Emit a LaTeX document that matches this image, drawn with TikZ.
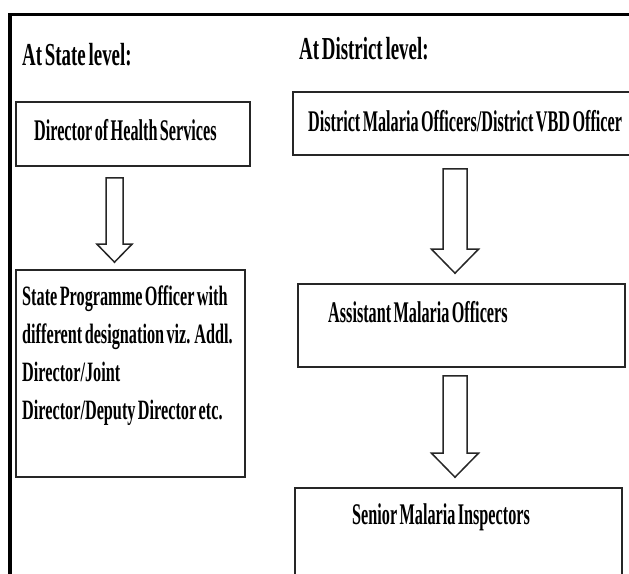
\documentclass[tikz,border=0pt]{standalone}
\usepackage{fontspec}
\newfontfamily\cfh{Liberation Serif}[FakeStretch=0.59,WordSpace=0.6]
\newfontfamily\cfb{Liberation Serif}[FakeStretch=0.54,WordSpace=0.6]
\newfontfamily\cfc{Liberation Serif}[FakeStretch=0.58,WordSpace=0.6]
\usetikzlibrary{calc}
\tikzset{
  frame/.style={line width=3.6pt, draw=black},
  box/.style={draw=black!85, line width=1.6pt, inner sep=0pt, fill=white},
  head/.style={inner sep=0pt, font=\cfh\bfseries\fontsize{32}{38}\selectfont, text=black},
  txt/.style={inner sep=0pt, font=\cfb\bfseries\fontsize{30}{38}\selectfont, text=black},
  txtb/.style={inner sep=0pt, font=\cfc\bfseries\fontsize{28}{37.7}\selectfont, text=black},
  blockline/.style={draw=black!85, line width=1.5pt, line join=miter, fill=white}
}
% #1 top coordinate, #2 tip coordinate, #3 shaft half width, #4 head half width, #5 head length
\newcommand\blockarr[5]{%
  \draw[blockline] ($(#1)+(-#3,0)$) -- ($(#1)+(#3,0)$) -- ($(#2)+(#3,-#5)$) -- ($(#2)+(#4,-#5)$)
    -- (#2) -- ($(#2)+(-#4,-#5)$) -- ($(#2)+(-#3,-#5)$) -- cycle;}
\begin{document}
\begin{tikzpicture}[x=1pt,y=-1pt]
\useasboundingbox (0,0) rectangle (629,573);
\clip (0,0) rectangle (629,573);
% outer frame
\draw[frame] (10,600) -- (10,14.5) -- (660,14.5);
% headings
\node[head, anchor=base west] (hs) at (22,65) {At State level:};
\node[head, anchor=base west] (hd) at (299,59) {At District level:};
% state boxes
\node[box, minimum width=234pt, minimum height=64pt] (b1) at (133,134) {};
\node[txt, anchor=base west] (t1) at (34,140) {Director of Health Services};
\node[box, minimum width=229pt, minimum height=207pt] (b2) at (130.5,373.5) {};
\node[txtb, anchor=north west, align=left] (t2) at (22,286) {State Programme Officer with\\different designation viz. Addl.\\Director/Joint\\Director/Deputy Director etc.};
% district boxes
\node[box, minimum width=357pt, minimum height=63pt] (d1) at (471.5,123.5) {};
\node[txt, anchor=base west] (u1) at (308,131) {District Malaria Officers/District VBD Officer};
\node[box, minimum width=327pt, minimum height=83pt] (d2) at (461.5,325.5) {};
\node[txt, anchor=base west] (u2) at (328,322) {Assistant Malaria Officers};
\node[box, minimum width=327pt, minimum height=90pt] (d3) at (458.5,533) {};
\node[txt, anchor=base west] (u3) at (352,524) {Senior Malaria Inspectors};
% arrows
\coordinate (a1t) at ($(b1.south -| 114.5,0)+(0,11)$);
\coordinate (a1h) at ($(b2.north -| 114.5,0)+(0,-7)$);
\blockarr{a1t}{a1h}{8.5}{17.5}{18}
\coordinate (a2t) at ($(d1.south -| 455,0)+(0,13)$);
\coordinate (a2h) at ($(d2.north -| 455,0)+(0,-10)$);
\blockarr{a2t}{a2h}{12}{23.5}{24}
\coordinate (a3t) at ($(d2.south -| 455,0)+(0,8)$);
\coordinate (a3h) at ($(d3.north -| 455,0)+(0,-10)$);
\blockarr{a3t}{a3h}{12}{23.5}{24}
\end{tikzpicture}
\end{document}
